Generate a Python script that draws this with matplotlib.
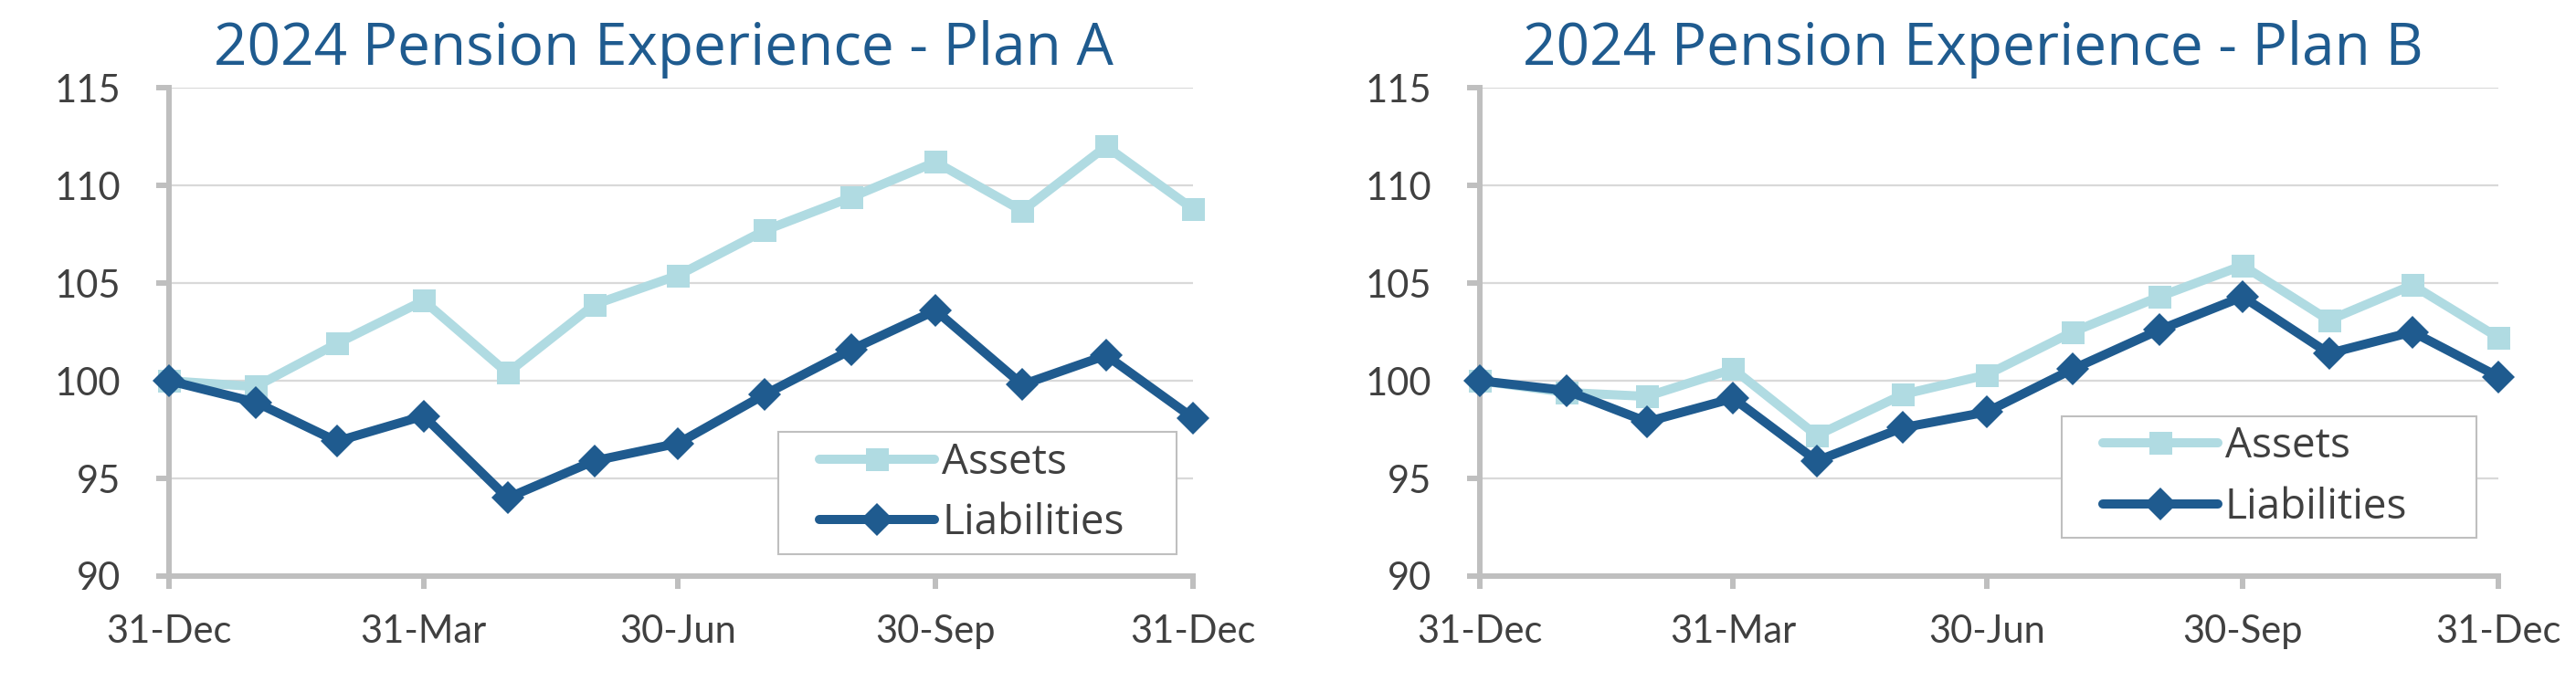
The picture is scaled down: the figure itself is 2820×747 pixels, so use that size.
import datetime as dt

import matplotlib.dates as mdates
import matplotlib.pyplot as plt
from matplotlib.patches import Rectangle

# month-end dates, 31-Dec-2023 to 31-Dec-2024
dates = [dt.date(2023, 12, 31), dt.date(2024, 1, 31), dt.date(2024, 2, 29), dt.date(2024, 3, 31),
         dt.date(2024, 4, 30), dt.date(2024, 5, 31), dt.date(2024, 6, 30), dt.date(2024, 7, 31),
         dt.date(2024, 8, 31), dt.date(2024, 9, 30), dt.date(2024, 10, 31), dt.date(2024, 11, 30),
         dt.date(2024, 12, 31)]
tick_dates = [dt.date(2023, 12, 31), dt.date(2024, 3, 31), dt.date(2024, 6, 30),
              dt.date(2024, 9, 30), dt.date(2024, 12, 31)]
y_ticks = [90, 95, 100, 105, 110, 115]

plan_a_assets = [100, 99.7, 101.9, 104.1, 100.4, 103.9, 105.4, 107.7, 109.4, 111.2, 108.7, 112.0, 108.8]
plan_a_liabilities = [100, 98.9, 96.9, 98.2, 94.0, 95.9, 96.8, 99.3, 101.6, 103.6, 99.8, 101.3, 98.1]
plan_b_assets = [100, 99.4, 99.2, 100.6, 97.2, 99.3, 100.3, 102.5, 104.3, 105.9, 103.1, 104.9, 102.2]
plan_b_liabilities = [100, 99.5, 97.9, 99.1, 95.9, 97.6, 98.4, 100.6, 102.6, 104.3, 101.4, 102.5, 100.2]

titles = ["2024 Pension Experience - Plan A", "2024 Pension Experience - Plan B"]

ASSET_COLOR = "#B0DBE2"
LIAB_COLOR = "#1F5B8F"
AXIS_COLOR = "#BFBFBF"
GRID_COLOR = "#D9D9D9"
TEXT_COLOR = "#404040"

fig = plt.figure(figsize=(28.2, 7.47), dpi=100)

panels = [
    # axes rect, legend box (x0, y0, x1, y1 in axes coords), title x (fig coords)
    ([0.0656, 0.1553, 0.3975, 0.716], (0.595, 0.045, 0.984, 0.295), 0.2575, plan_a_assets, plan_a_liabilities),
    ([0.5745, 0.1553, 0.3955, 0.716], (0.571, 0.0785, 0.978, 0.327), 0.766, plan_b_assets, plan_b_liabilities),
]

for (rect, box, title_x, assets, liabilities), title in zip(panels, titles):
    ax = fig.add_axes(rect)

    # Add data
    ax.plot(dates, assets, color=ASSET_COLOR, lw=7.2, marker="s", ms=18, mew=0,
            solid_capstyle="round", clip_on=False, zorder=3, label="Assets")
    ax.plot(dates, liabilities, color=LIAB_COLOR, lw=7.2, marker="D", ms=18, mew=0,
            solid_capstyle="round", clip_on=False, zorder=4, label="Liabilities")

    # Formatting
    ax.set_xlim(dates[0], dates[-1])
    ax.set_ylim(90, 115)
    ax.set_yticks(y_ticks)
    ax.set_xticks(tick_dates)
    ax.xaxis.set_major_formatter(mdates.DateFormatter("%d-%b"))
    ax.grid(axis="y", color=GRID_COLOR, lw=1.6, zorder=0)
    ax.set_axisbelow(True)
    for side in ("top", "right"):
        ax.spines[side].set_visible(False)
    for side in ("left", "bottom"):
        ax.spines[side].set_color(AXIS_COLOR)
        ax.spines[side].set_linewidth(4.3)
    ax.tick_params(axis="both", colors=AXIS_COLOR, width=4.3, length=10, labelcolor=TEXT_COLOR)
    ax.tick_params(axis="y", pad=28)
    ax.tick_params(axis="x", pad=20)
    for lbl in ax.get_xticklabels() + ax.get_yticklabels():
        lbl.set_fontfamily("Lato")
        lbl.set_fontsize(30)

    # Legend: white framed box, entries placed inside it
    x0, y0, x1, y1 = box
    ax.add_patch(Rectangle((x0, y0), x1 - x0, y1 - y0, transform=ax.transAxes,
                           facecolor="white", edgecolor=AXIS_COLOR, lw=1.5, zorder=5))
    leg = ax.legend(loc="center left", bbox_to_anchor=(x0 + 0.040, (y0 + y1) / 2), frameon=False,
                    prop={"family": "Open Sans", "size": 33}, handlelength=2.75, handletextpad=0.18,
                    borderpad=0, labelspacing=0.45, borderaxespad=0, numpoints=1)
    leg.set_zorder(6)
    for txt in leg.get_texts():
        txt.set_color(TEXT_COLOR)

    fig.text(title_x, 0.905, title, ha="center", va="baseline", fontsize=46,
             family="Open Sans", color=LIAB_COLOR)

fig.savefig("out.png", dpi=100, facecolor="white")
